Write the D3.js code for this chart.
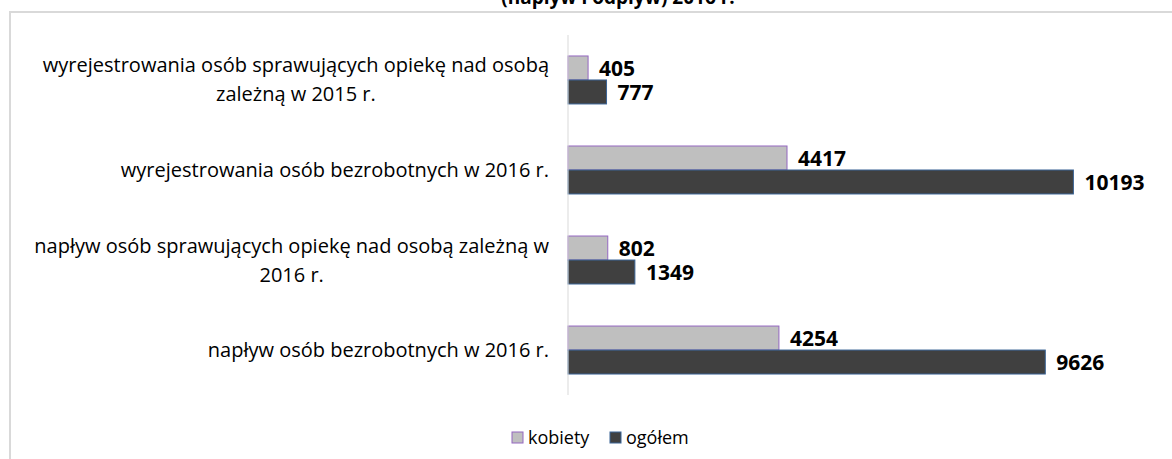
<!DOCTYPE html>
<html>
<head>
<meta charset="utf-8">
<script src="https://cdn.jsdelivr.net/npm/d3@7"></script>
<style>
  body { margin: 0; background: #fff; }
  svg { display: block; font-family: "Open Sans", "Noto Sans", sans-serif; }
</style>
</head>
<body>
<svg id="chart" width="1172" height="459"></svg>
<script>
// categories top to bottom, each label split into lines
const categories = [
    ["wyrejestrowania osób sprawujących opiekę nad osobą", "zależną w 2015 r."],
    ["wyrejestrowania osób bezrobotnych w 2016 r."],
    ["napływ osób sprawujących opiekę nad osobą zależną w", "2016 r."],
    ["napływ osób bezrobotnych w 2016 r."]
];
const seriesNames = ["kobiety", "ogółem"];
const kobiety = [405, 4417, 802, 4254];
const ogolem = [777, 10193, 1349, 9626];
const title = "(napływ i odpływ) 2016 r.";

const fills = ["#bfbfbf", "#404040"];
const strokes = ["#9467c0", "#3b6496"];

const svg = d3.select("#chart");

// chart frame (cut off on the right and bottom like the original)
svg.append("rect")
    .attr("x", 10).attr("y", 12)
    .attr("width", 1200).attr("height", 500)
    .attr("fill", "none")
    .attr("stroke", "#d9d9d9")
    .attr("stroke-width", 2);

// title, mostly above the visible area
svg.append("text")
    .attr("x", 618).attr("y", 4)
    .attr("text-anchor", "middle")
    .style("font-size", "19px")
    .style("font-weight", "bold")
    .attr("fill", "#000")
    .text(title);

const x = d3.scaleLinear().domain([0, 12000]).range([568, 1163]);
const y = d3.scaleBand()
    .domain(d3.range(categories.length))
    .range([35, 395])
    .paddingInner(0.467)
    .paddingOuter(0.233);
const ySub = d3.scaleBand().domain(seriesNames).range([0, y.bandwidth()]);

const values = [kobiety, ogolem];

// bars
seriesNames.forEach((name, s) => {
    svg.append("g").selectAll("rect")
        .data(values[s])
        .join("rect")
        .attr("x", x(0))
        .attr("y", (d, i) => y(i) + ySub(name))
        .attr("width", d => x(d) - x(0))
        .attr("height", ySub.bandwidth())
        .attr("fill", fills[s])
        .attr("stroke", strokes[s])
        .attr("stroke-width", 1);

    svg.append("g").selectAll("text")
        .data(values[s])
        .join("text")
        .attr("x", d => x(d) + 11)
        .attr("y", (d, i) => y(i) + ySub(name) + ySub.bandwidth() / 2)
        .attr("dy", "0.36em")
        .style("font-size", "21px")
        .style("font-weight", "bold")
        .attr("fill", "#000")
        .text(d => d);
});

// vertical axis line
svg.append("line")
    .attr("x1", x(0)).attr("x2", x(0))
    .attr("y1", 35).attr("y2", 395)
    .attr("stroke", "#d9d9d9")
    .attr("stroke-width", 1);

// category labels: block right aligned, lines centred within it
const lineH = 29;
categories.forEach((lines, i) => {
    const g = svg.append("g");
    const cy = y(i) + y.bandwidth() / 2;
    const texts = g.selectAll("text")
        .data(lines)
        .join("text")
        .attr("y", (d, k) => cy + (k - (lines.length - 1) / 2) * lineH)
        .attr("dy", "0.35em")
        .attr("text-anchor", "middle")
        .style("font-size", "20px")
        .attr("fill", "#000")
        .text(d => d);
    const widest = d3.max(texts.nodes(), n => n.getComputedTextLength());
    texts.attr("x", 549 - widest / 2);
});

// legend
const legend = svg.append("g");
const legendX = [512, 610];
seriesNames.forEach((name, s) => {
    legend.append("rect")
        .attr("x", legendX[s]).attr("y", 432)
        .attr("width", 11).attr("height", 11)
        .attr("fill", fills[s])
        .attr("stroke", strokes[s]);
    legend.append("text")
        .attr("x", legendX[s] + 16).attr("y", 437.5)
        .attr("dy", "0.35em")
        .style("font-size", "18px")
        .attr("fill", "#000")
        .text(name);
});
</script>
</body>
</html>
